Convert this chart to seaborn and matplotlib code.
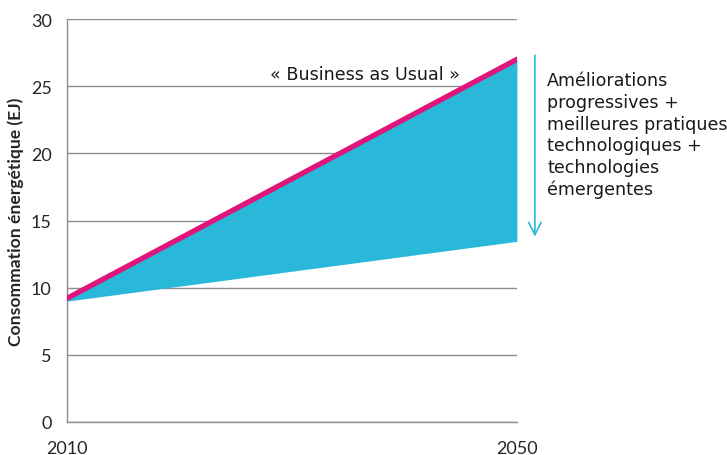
import matplotlib
matplotlib.use("Agg")
import matplotlib.pyplot as plt
import seaborn as sns
import pandas as pd

years = [2010, 2050]
bau = [9.2, 27.0]
low = [9.0, 13.45]
yticks = [0, 5, 10, 15, 20, 25, 30]
xticks = [2010, 2050]
bau_label = "« Business as Usual »"
side_text = "Améliorations\nprogressives +\nmeilleures pratiques\ntechnologiques +\ntechnologies\némergentes"
ylabel = "Consommation énergétique (EJ)"

sns.set_style("white")
plt.rcParams['font.family'] = ['Lato', 'DejaVu Sans']

fig = plt.figure(figsize=(7.27, 4.56), dpi=100)
ax = fig.add_axes([0.092, 0.0724, 0.619, 0.8836])

df = pd.DataFrame({"year": years, "bau": bau, "low": low})
ax.fill_between(df["year"], df["low"], df["bau"], color="#29B8DA", linewidth=0, zorder=2)
sns.lineplot(data=df, x="year", y="bau", ax=ax, color="#E0157A", linewidth=3.8, zorder=3)

ax.set_xlim(2010, 2050)
ax.set_ylim(0, 30)
ax.set_yticks(yticks)
ax.set_xticks(xticks)
ax.set_yticklabels([str(v) for v in yticks], fontsize=13)
ax.set_xticklabels([str(v) for v in xticks], fontsize=13)
ax.yaxis.grid(True, color="#8c8c8c", linewidth=1.0)
ax.set_axisbelow(True)
for s in ["top", "right"]:
    ax.spines[s].set_visible(False)
for s in ["left", "bottom"]:
    ax.spines[s].set_color("#8c8c8c")
    ax.spines[s].set_linewidth(1.0)
ax.tick_params(axis="y", direction="out", length=5, color="#8c8c8c", width=1.0, pad=6)
ax.tick_params(axis="x", direction="out", length=4, color="#8c8c8c", width=1.0, pad=9)
ax.set_xlabel("")
ax.set_ylabel(ylabel, fontsize=12.6, fontweight="bold", labelpad=5)

ax.text(2036.5, 25.9, bau_label, ha="center", va="center", fontsize=12.6,
        family=["DejaVu Sans"], color="#1a1a1a")

ax.annotate("", xy=(2051.6, 13.8), xytext=(2051.6, 27.3),
            arrowprops=dict(arrowstyle="->,head_length=0.9,head_width=0.45",
                            color="#29B8DA", linewidth=1.2, shrinkA=0, shrinkB=0),
            annotation_clip=False)
ax.text(2052.7, 26.1, side_text, ha="left", va="top", fontsize=12.6,
        family=["DejaVu Sans"], color="#1a1a1a", linespacing=1.26, clip_on=False)

fig.savefig("out.png", dpi=100)
